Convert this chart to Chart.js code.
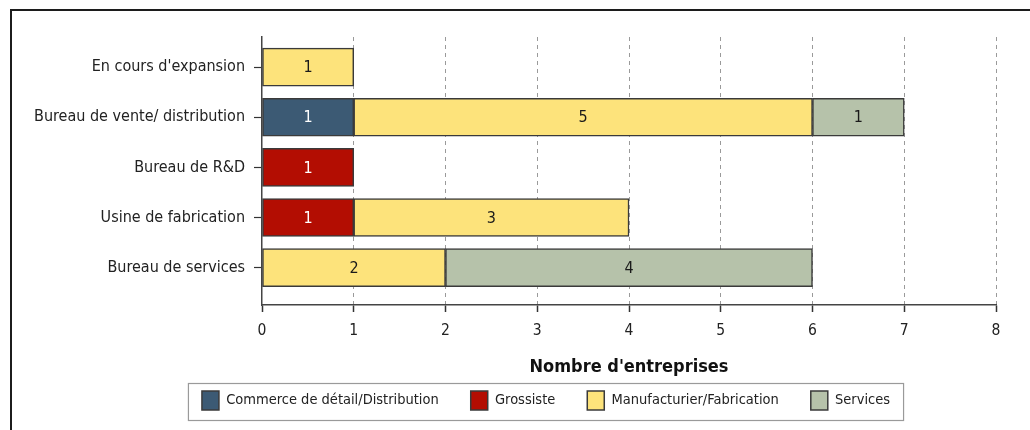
<!DOCTYPE html>
<html>
<head>
<meta charset="utf-8">
<script src="https://cdn.jsdelivr.net/npm/chart.js@4.4.0/dist/chart.umd.min.js"></script>
<style>
  html, body { margin: 0; padding: 0; background: #fff; }
  #wrap { position: relative; width: 1030px; height: 430px; overflow: hidden; }
  #frame { position: absolute; left: 10px; top: 9px; width: 1200px; height: 600px;
           border-top: 2px solid #1c1c1c; border-left: 2px solid #1c1c1c; }
  #c { position: absolute; left: 0; top: 0; }
</style>
</head>
<body>
<div id="wrap">
  <div id="frame"></div>
  <canvas id="c" width="1030" height="430"></canvas>
</div>
<script>
// Categories, top to bottom
const categories = [
  "En cours d'expansion",
  "Bureau de vente/ distribution",
  "Bureau de R&D",
  "Usine de fabrication",
  "Bureau de services"
];

// Number of companies per sector
const seriesNames = [
  "Commerce de détail/Distribution",
  "Grossiste",
  "Manufacturier/Fabrication",
  "Services"
];
const commerce      = [0, 1, 0, 0, 0];
const grossiste     = [0, 0, 1, 1, 0];
const manufacturier = [1, 5, 0, 3, 2];
const services      = [0, 1, 0, 0, 4];

const xTickValues = [0, 1, 2, 3, 4, 5, 6, 7, 8];
const xTitle = "Nombre d'entreprises";

const fillColors  = ["#3c5a74", "#b30d02", "#fde37b", "#b6c2aa"];
const labelColors = ["#ffffff", "#ffffff", "#1a1a1a", "#1a1a1a"];

const FONT = "'DejaVu Sans Condensed', 'DejaVu Sans', sans-serif";

// one dataset per sector; only non-zero segments become bars
function toPoints(values) {
  return values.map((v, i) => ({ x: v, y: i })).filter(p => p.x > 0);
}
const seriesValues = [commerce, grossiste, manufacturier, services];
const datasets = seriesValues.map((vals, k) => ({
  label: seriesNames[k],
  data: toPoints(vals),
  backgroundColor: fillColors[k],
  borderColor: "#3a3a3a",
  borderWidth: 1.5,
  borderSkipped: false,
  barThickness: 38
}));

// value written in the middle of each segment
const segmentLabels = {
  id: 'segmentLabels',
  afterDatasetsDraw(chart) {
    const ctx = chart.ctx;
    ctx.save();
    ctx.font = "16px " + FONT;
    ctx.textAlign = 'center';
    ctx.textBaseline = 'middle';
    chart.data.datasets.forEach((ds, di) => {
      const meta = chart.getDatasetMeta(di);
      meta.data.forEach((bar, i) => {
        ctx.fillStyle = labelColors[di];
        ctx.fillText(String(ds.data[i].x), (bar.x + bar.base) / 2, bar.y + 1);
      });
    });
    ctx.restore();
  }
};

// the legend row sits a little right of the canvas centre
const legendShift = 38;
const legendOffset = {
  id: 'legendOffset',
  afterLayout(chart) {
    const lg = chart.legend;
    if (!lg) return;
    lg.left += legendShift;
    lg.right += legendShift;
  }
};

// thin grey frame around the legend entries
const legendFrame = {
  id: 'legendFrame',
  afterDraw(chart) {
    const lg = chart.legend;
    if (!lg || !lg.legendHitBoxes || !lg.legendHitBoxes.length) return;
    const hb = lg.legendHitBoxes;
    const first = hb[0], last = hb[hb.length - 1];
    const left = first.left - 14;
    const right = last.left + last.width + 13;
    const top = first.top - 8;
    const bottom = first.top + first.height + 10;
    const ctx = chart.ctx;
    ctx.save();
    ctx.strokeStyle = "#9a9a9a";
    ctx.lineWidth = 1.2;
    ctx.strokeRect(left + 0.5, top + 0.5, right - left, bottom - top);
    ctx.restore();
  }
};

new Chart(document.getElementById('c'), {
  type: 'bar',
  data: { datasets },
  plugins: [segmentLabels, legendOffset, legendFrame],
  options: {
    indexAxis: 'y',
    responsive: false,
    animation: false,
    events: [],
    layout: { padding: { top: 37, right: 34, left: 20, bottom: 10 } },
    plugins: {
      tooltip: { enabled: false },
      legend: {
        position: 'bottom',
        labels: {
          boxWidth: 17,
          boxHeight: 19,
          padding: 32,
          color: "#222",
          font: { family: FONT, size: 14.5 }
        }
      }
    },
    scales: {
      x: {
        type: 'linear',
        stacked: true,
        min: 0,
        max: 8,
        afterBuildTicks(scale) { scale.ticks = xTickValues.map(v => ({ value: v })); },
        afterFit(scale) { scale.height = 54; },
        grid: {
          color: ctx => (ctx.tick && ctx.tick.value === 0) ? 'rgba(0,0,0,0)' : '#9a9a9a',
          lineWidth: 1,
          drawTicks: true,
          tickLength: 7,
          tickColor: '#333',
          tickWidth: 1.5
        },
        border: { display: true, color: '#444', width: 1.5, dash: [4, 4] },
        ticks: {
          color: '#222',
          padding: 10,
          font: { family: FONT, size: 15.5 }
        },
        title: {
          display: true,
          text: xTitle,
          color: '#111',
          font: { family: FONT, size: 18, weight: 'bold' },
          padding: { top: 0, bottom: -18.8 }
        }
      },
      y: {
        type: 'linear',
        stacked: true,
        reverse: true,
        offset: false,
        min: -0.6,
        max: 4.745,
        afterBuildTicks(scale) { scale.ticks = categories.map((_, i) => ({ value: i })); },
        afterFit(scale) { scale.width = 242; },
        grid: {
          offset: false,
          drawOnChartArea: false,
          drawTicks: true,
          tickLength: 8,
          tickColor: '#333',
          tickWidth: 1.2
        },
        border: { display: true, color: '#444', width: 1.5 },
        ticks: {
          color: '#222',
          padding: 9,
          font: { family: FONT, size: 16 },
          callback: v => categories[v]
        }
      }
    }
  }
});
</script>
</body>
</html>
